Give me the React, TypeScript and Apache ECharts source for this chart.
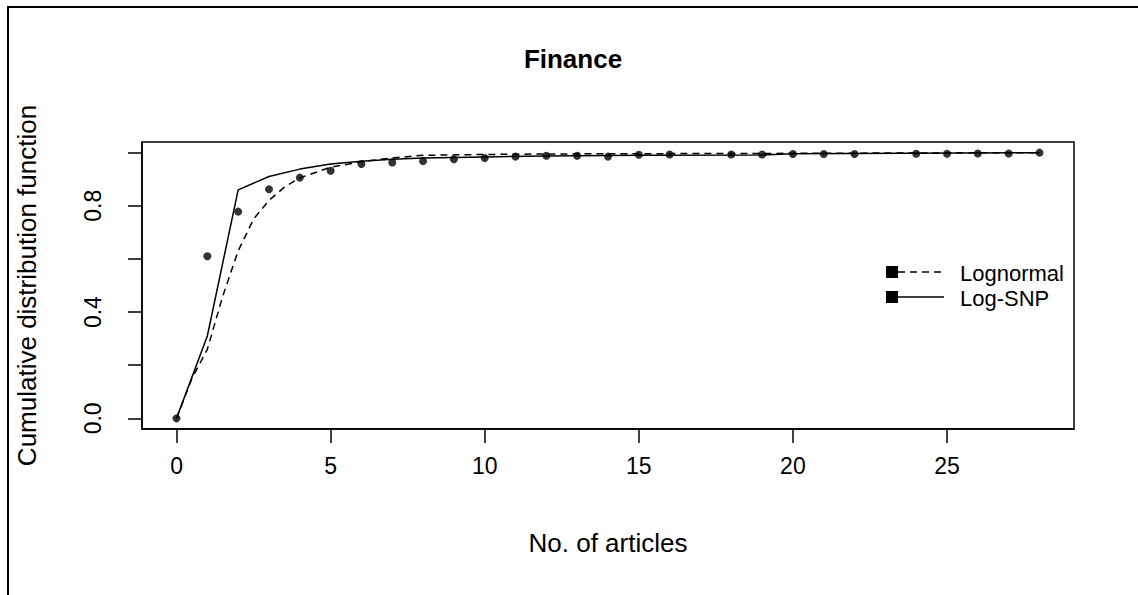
import React, { useEffect, useRef } from "react";
import * as echarts from "echarts";

// Empirical CDF points (No. of articles, cumulative proportion)
const empiricalX = [0, 1, 2, 3, 4, 5, 6, 7, 8, 9, 10, 11, 12, 13, 14, 15, 16, 18, 19, 20, 21, 22, 24, 25, 26, 27, 28];
const empiricalY = [0.0, 0.61, 0.778, 0.862, 0.906, 0.932, 0.957, 0.963, 0.968, 0.975, 0.98, 0.985, 0.988, 0.988, 0.985, 0.992, 0.993, 0.993, 0.993, 0.995, 0.995, 0.995, 0.996, 0.996, 0.997, 0.997, 1.0];

// Fitted Lognormal CDF (dashed)
const lognormalX = [0, 0.5, 1, 1.5, 2, 2.5, 3, 3.5, 4, 5, 6, 7, 8, 10, 12, 15, 19, 28];
const lognormalY = [0.0, 0.15, 0.26, 0.46, 0.63, 0.75, 0.82, 0.87, 0.905, 0.945, 0.966, 0.98, 0.99, 0.993, 0.995, 0.996, 0.997, 1.0];

// Fitted Log-SNP CDF (solid)
const logSnpX = [0, 1, 2, 3, 4, 5, 6, 7, 8, 10, 12, 15, 19, 20, 28];
const logSnpY = [0.0, 0.31, 0.86, 0.91, 0.938, 0.957, 0.968, 0.975, 0.98, 0.984, 0.987, 0.99, 0.991, 0.996, 1.0];

const xTickValues = [0, 5, 10, 15, 20, 25];
const yTickValues = [0, 0.2, 0.4, 0.6, 0.8, 1.0];
const yLabelValues = [0, 0.4, 0.8];
const legendNames = ["Lognormal", "Log-SNP"];

const FONT = "Liberation Sans, Arial, sans-serif";

export default function App() {
  const ref = useRef<HTMLDivElement>(null);

  useEffect(() => {
    if (!ref.current) return;
    const chart = echarts.init(ref.current, undefined, { renderer: "svg" });

    const pairs = (xs: number[], ys: number[]) => xs.map((x, i) => [x, ys[i]]);

    const option: any = {
      animation: false,
      backgroundColor: "#ffffff",
      grid: { left: 142, top: 142, width: 932, height: 287, show: true, borderColor: "#000", borderWidth: 1.5, backgroundColor: "transparent" },
      xAxis: {
        type: "value",
        min: -1.12,
        max: 29.12,
        name: "No. of articles",
        nameLocation: "middle",
        nameGap: 101,
        nameTextStyle: { fontFamily: FONT, fontSize: 26, color: "#000" },
        axisLine: { show: true, onZero: false, lineStyle: { color: "#000", width: 1.5 } },
        axisTick: { show: true, length: 14, inside: false, customValues: xTickValues, lineStyle: { color: "#000", width: 1.5 } },
        axisLabel: { customValues: xTickValues, fontFamily: FONT, fontSize: 23, color: "#000", margin: 25 },
        splitLine: { show: false },
      },
      yAxis: {
        type: "value",
        min: -0.04,
        max: 1.04,
        name: "Cumulative distribution function",
        nameLocation: "middle",
        nameGap: 102,
        nameTextStyle: { fontFamily: FONT, fontSize: 26, color: "#000" },
        axisLine: { show: true, onZero: false, lineStyle: { color: "#000", width: 1.5 } },
        axisTick: { show: true, length: 14, inside: false, customValues: yTickValues, lineStyle: { color: "#000", width: 1.5 } },
        axisLabel: {
          customValues: yLabelValues,
          rotate: 90,
          fontFamily: FONT,
          fontSize: 23,
          color: "#000",
          margin: 38,
          formatter: (v: number) => v.toFixed(1),
        },
        splitLine: { show: false },
      },
      series: [
        {
          name: legendNames[0],
          type: "line",
          data: pairs(lognormalX, lognormalY),
          showSymbol: false,
          lineStyle: { color: "#000", width: 1.5, type: [7, 5] },
          z: 2,
        },
        {
          name: legendNames[1],
          type: "line",
          data: pairs(logSnpX, logSnpY),
          showSymbol: false,
          lineStyle: { color: "#000", width: 1.5, type: "solid" },
          z: 2,
        },
        {
          name: "Empirical",
          type: "scatter",
          data: pairs(empiricalX, empiricalY),
          symbol: "circle",
          symbolSize: 8,
          itemStyle: { color: "#000" },
          z: 3,
        },
      ],
      graphic: [
        { type: "line", shape: { x1: 7, y1: 7, x2: 1138, y2: 7 }, style: { stroke: "#000", lineWidth: 2 } },
        { type: "line", shape: { x1: 8, y1: 7, x2: 8, y2: 595 }, style: { stroke: "#000", lineWidth: 2 } },
        { type: "text", x: 573, y: 59, style: { text: "Finance", fontFamily: FONT, fontWeight: "bold", fontSize: 26, fill: "#000", textAlign: "center", textVerticalAlign: "middle" } },
        // legend
        { type: "rect", shape: { x: 886, y: 266, width: 12, height: 12 }, style: { fill: "#000" } },
        { type: "line", shape: { x1: 898, y1: 272, x2: 942, y2: 272 }, style: { stroke: "#000", lineWidth: 1.5, lineDash: [7, 5] } },
        { type: "text", x: 960, y: 273, style: { text: legendNames[0], fontFamily: FONT, fontSize: 22, fill: "#000", textAlign: "left", textVerticalAlign: "middle" } },
        { type: "rect", shape: { x: 886, y: 291, width: 12, height: 12 }, style: { fill: "#000" } },
        { type: "line", shape: { x1: 898, y1: 297, x2: 944, y2: 297 }, style: { stroke: "#000", lineWidth: 1.5 } },
        { type: "text", x: 960, y: 298, style: { text: legendNames[1], fontFamily: FONT, fontSize: 22, fill: "#000", textAlign: "left", textVerticalAlign: "middle" } },
      ],
    };

    chart.setOption(option);
    return () => chart.dispose();
  }, []);

  return <div ref={ref} style={{ position: "fixed", left: 0, top: 0, width: 1138, height: 595, background: "#fff" }} />;
}
